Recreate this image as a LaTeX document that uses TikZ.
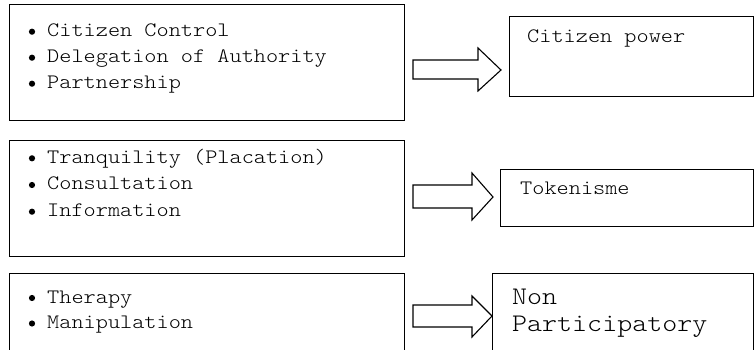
\documentclass[tikz,border=0pt]{standalone}
\usepackage{fontspec}
\newfontfamily\courfont[FakeStretch=1.13]{Latin Modern Mono Light}
\begin{document}
\begin{tikzpicture}[x=1pt,y=-1pt,
  box/.style={draw, line width=1.4pt, inner sep=0pt, anchor=north west},
  lbl/.style={font=\fontsize{20.5}{26.5}\selectfont\courfont, inner sep=0pt, anchor=base west},
  biglbl/.style={font=\fontsize{25.3}{26.5}\selectfont\courfont, inner sep=0pt, anchor=base west},
  blockarrow/.style={draw, line width=1.1pt, fill=white, line join=miter},
  bul/.style={fill=black}]
\useasboundingbox (0,0) rectangle (756,350);
% boxes
\node[box, minimum width=395pt, minimum height=116pt] (L1) at (9,4) {};
\node[box, minimum width=244pt, minimum height=80pt] (R1) at (509,16) {};
\node[box, minimum width=395pt, minimum height=116pt] (L2) at (9,140) {};
\node[box, minimum width=253pt, minimum height=57pt] (R2) at (500,169) {};
\node[box, minimum width=395pt, minimum height=95pt] (L3) at (9,273) {};
\node[box, minimum width=261pt, minimum height=95pt] (R3) at (492,273) {};
% block arrows
\draw[blockarrow] (413,60) -- (478,60) -- (478,48) -- (501,70) -- (478,91) -- (478,79) -- (413,79) -- cycle;
\draw[blockarrow] (413,185) -- (472,185) -- (472,173) -- (493,197) -- (472,220) -- (472,208) -- (413,208) -- cycle;
\draw[blockarrow] (413,305) -- (472,305) -- (472,296) -- (492,316) -- (472,337) -- (472,327) -- (413,327) -- cycle;
% texts box 1
\node[lbl] (t11) at (47,36.7) {Citizen Control};
\node[lbl] (t12) at (47,62.7) {Delegation of Authority};
\node[lbl] (t13) at (47,88.7) {Partnership};
\foreach \y in {36.7,62.7,88.7} \fill[bul] (32,\y-5) circle (3.1);
\node[lbl] (r1t) at (527,42.7) {Citizen power};
% texts box 2
\node[lbl] (t21) at (47,163.3) {Tranquility (Placation)};
\node[lbl] (t22) at (47,190) {Consultation};
\node[lbl] (t23) at (47,216.7) {Information};
\foreach \y in {163.3,190,216.7} \fill[bul] (32,\y-5) circle (3.1);
\node[lbl] (r2t) at (520,195) {Tokenisme};
% texts box 3
\node[lbl] (t31) at (47,303) {Therapy};
\node[lbl] (t32) at (47,328.5) {Manipulation};
\foreach \y in {303,328.5} \fill[bul] (32,\y-5) circle (3.1);
\node[biglbl] (r3a) at (512,305) {Non};
\node[biglbl] (r3b) at (512,331.7) {Participatory};
\end{tikzpicture}
\end{document}
